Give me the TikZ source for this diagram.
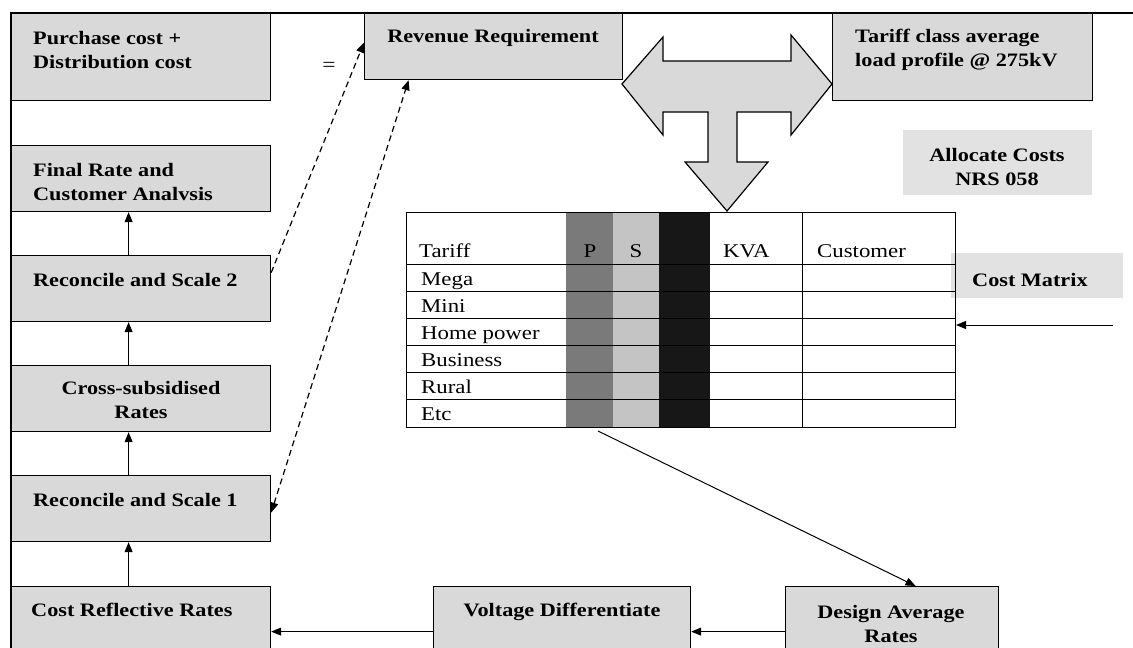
\documentclass[tikz,border=0pt]{standalone}
\usepackage{fontspec}
\setmainfont{Liberation Serif}[FakeStretch=1.17]
\usetikzlibrary{arrows.meta}
\definecolor{boxgray}{HTML}{D9D9D9}
\definecolor{labgray}{HTML}{E2E2E2}
\definecolor{pgray}{HTML}{7A7A7A}
\definecolor{sgray}{HTML}{C4C4C4}
\definecolor{blk}{HTML}{171717}
\begin{document}
\begin{tikzpicture}[x=1pt,y=-1pt,
  box/.style={draw=black, line width=1.2pt, fill=boxgray, anchor=north west, inner sep=0pt},
  plainbox/.style={fill=labgray, anchor=north west, inner sep=0pt},
  btxt/.style={font=\fontsize{19}{24}\selectfont\bfseries, inner sep=0pt, align=left},
  ctxt/.style={font=\fontsize{19}{24}\selectfont\bfseries, inner sep=0pt, align=center},
  ttxt/.style={font=\fontsize{19.5}{24}\selectfont, inner sep=0pt, anchor=base west},
  tctr/.style={font=\fontsize{19.5}{24}\selectfont, inner sep=0pt, anchor=base},
  arr/.style={line width=1pt, -{Triangle[length=10pt,width=8pt]}},
  dasharr/.style={line width=1.2pt, dash pattern=on 6pt off 4pt, -{Triangle[length=10pt,width=8pt]}},
  dashboth/.style={line width=1.2pt, dash pattern=on 6pt off 4pt, {Triangle[length=10pt,width=8pt]}-{Triangle[length=10pt,width=8pt]}}
]
\useasboundingbox (0,0) rectangle (1133,648);
\fill[white] (0,0) rectangle (1133,648);

% boxes
\node[box, minimum width=259pt, minimum height=87pt] (pur) at (11,13) {};
\node[box, minimum width=258pt, minimum height=66pt] (rev) at (364,13) {};
\node[box, minimum width=260pt, minimum height=87pt] (tcl) at (832,13) {};
\node[plainbox, minimum width=189pt, minimum height=65pt] (alloc) at (903,130) {};
\node[box, minimum width=259pt, minimum height=66pt] (fin) at (11,145) {};
\node[box, minimum width=259pt, minimum height=66pt] (rs2) at (11,255) {};
\node[box, minimum width=259pt, minimum height=66pt] (cs) at (11,365) {};
\node[box, minimum width=259pt, minimum height=66pt] (rs1) at (11,475) {};
\node[box, minimum width=259pt, minimum height=90pt] (crr) at (11,586) {};
\node[box, minimum width=257pt, minimum height=90pt] (vd) at (433,586) {};
\node[box, minimum width=213pt, minimum height=90pt] (dar) at (785,586) {};
\node[plainbox, minimum width=172pt, minimum height=45pt] (cm) at (951,253) {};

% box texts
\node[btxt, anchor=west] (tpur) at (33,50) {Purchase cost +\\Distribution cost};
\node[btxt] (trev) at (493,38) {Revenue Requirement};
\node[btxt, anchor=west] (ttcl) at (855,50) {Tariff class average\\load profile @ 275kV};
\node[ctxt] (talloc) at (997,167) {Allocate Costs\\NRS 058};
\node[btxt, anchor=west] (tfin) at (33,182) {Final Rate and\\Customer Analvsis};
\node[btxt, anchor=west] (trs2) at (33,280) {Reconcile and Scale 2};
\node[ctxt] (tcs) at (141,400) {Cross-subsidised\\Rates};
\node[btxt, anchor=west] (trs1) at (33,500) {Reconcile and Scale 1};
\node[btxt, anchor=west] (tcrr) at (31,610) {Cost Reflective Rates};
\node[btxt] (tvd) at (562,612) {Voltage Differentiate};
\node[ctxt] (tdar) at (891,624) {Design Average\\Rates};
\node[btxt, anchor=west] (tcm) at (972,280) {Cost Matrix};
\node[font=\fontsize{20}{24}\selectfont, inner sep=0pt] (eq) at (329,67) {=};

% big three-way arrow
\draw[fill=boxgray, line width=1.2pt, line join=miter]
  (622,84) -- (663,37) -- (663,61) -- (791,61) -- (791,35) -- (832,84)
  -- (791,135) -- (791,112) -- (737,112) -- (737,162) -- (768,162)
  -- (727,211) -- (685,162) -- (708,162) -- (708,112) -- (663,112)
  -- (663,135) -- cycle;

% table
\fill[pgray] (566,212) rectangle (613,427);
\fill[sgray] (613,212) rectangle (659,427);
\fill[blk] (659,212) rectangle (710,427);
\foreach \yy in {264,291.2,318.3,345.5,372.7,399.8}
  \draw[line width=0.8pt] (406,\yy) -- (955,\yy);
\draw[line width=0.8pt] (802,212) -- (802,427);
\node[draw, line width=1pt, anchor=north west, minimum width=549pt, minimum height=215pt, inner sep=0pt] (tbl) at (406,212) {};

\node[ttxt] (h1) at (419,257) {Tariff};
\node[tctr] (h2) at (590,257) {P};
\node[tctr] (h3) at (636,257) {S};
\node[ttxt] (h4) at (723,257) {KVA};
\node[ttxt] (h5) at (817,257) {Customer};
\node[ttxt] (r1) at (421,285) {Mega};
\node[ttxt] (r2) at (421,312) {Mini};
\node[ttxt] (r3) at (421,339) {Home power};
\node[ttxt] (r4) at (421,366) {Business};
\node[ttxt] (r5) at (421,393) {Rural};
\node[ttxt] (r6) at (421,420) {Etc};

% connectors
\draw[arr] ([xshift=-12.5pt]rs2.north) -- ([xshift=-12.5pt]fin.south);
\draw[arr] ([xshift=-12.5pt]cs.north) -- ([xshift=-12.5pt]rs2.south);
\draw[arr] ([xshift=-12.5pt]rs1.north) -- ([xshift=-12.5pt]cs.south);
\draw[arr] ([xshift=-12.5pt]crr.north) -- ([xshift=-12.5pt]rs1.south);
\draw[arr] (dar.west) -- (vd.east);
\draw[arr] (vd.west) -- (crr.east);
\coordinate (tb) at (598,431);
\draw[arr] (tb) -- ([xshift=23.5pt]dar.north);
\coordinate (cmin) at (1113,325);
\draw[arr] (cmin) -- (tbl.east |- cmin);
\draw[dasharr] ([yshift=16pt]rs2.east) -- ([yshift=4pt]rev.west);
\draw[dashboth] ([yshift=-4pt]rs1.east) -- ([xshift=-85pt]rev.south);

% frame
\draw[line width=2.5pt] (11,648) -- (11,13) -- (1133,13);
\end{tikzpicture}
\end{document}
